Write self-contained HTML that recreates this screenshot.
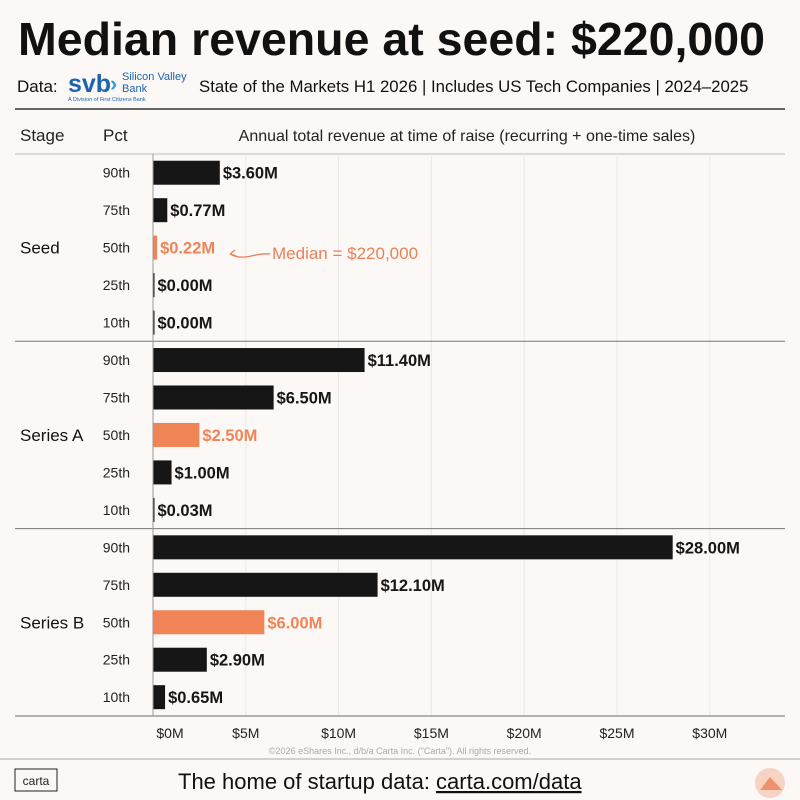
<!DOCTYPE html>
<html><head><meta charset="utf-8">
<style>
html,body{margin:0;padding:0;background:#fbf8f6;}
svg{display:block;font-family:"Liberation Sans",sans-serif;}
</style></head>
<body>
<svg id="chart" width="800" height="800" viewBox="0 0 800 800">
<rect width="800" height="800" fill="#fbf8f6"/>
<text x="18" y="55" font-size="46.5" font-weight="bold" fill="#111">Median revenue at seed: $220,000</text>
<text x="17" y="92" font-size="17" fill="#111">Data:</text>
<g>
<text x="68" y="92" font-size="25" font-weight="bold" fill="#1e63b0">svb</text>
<text x="110" y="91" font-size="22" font-weight="bold" fill="#2aa3e0">›</text>
<text x="122" y="80" font-size="11" fill="#1e63b0">Silicon Valley</text>
<text x="122" y="92" font-size="11" fill="#1e63b0">Bank</text>
<text x="68" y="101" font-size="5.5" fill="#1e63b0">A Division of First Citizens Bank</text>
</g>
<text x="199" y="92" font-size="16.8" fill="#111">State of the Markets H1 2026 | Includes US Tech Companies | 2024–2025</text>
<line x1="15" y1="109" x2="785" y2="109" stroke="#333" stroke-width="1.5"/>
<text x="20" y="141" font-size="17" fill="#222">Stage</text>
<text x="103" y="141" font-size="17" fill="#222">Pct</text>
<text x="467" y="141" font-size="16" fill="#222" text-anchor="middle">Annual total revenue at time of raise (recurring + one-time sales)</text>
<line x1="15" y1="154" x2="785" y2="154" stroke="#bbb" stroke-width="1"/>
<g id="grid"></g>
<g id="bars"></g>
<g id="annot">
<path d="M270,254 C255,252 245,262 230,254" fill="none" stroke="#e8825a" stroke-width="1.3"/>
<path d="M230,254 l5,-4 M230,254 l6,2" stroke="#e8825a" stroke-width="1.3" fill="none"/>
<text x="272" y="259" font-size="17" fill="#e8825a">Median = $220,000</text>
</g>
<text x="400" y="754" font-size="9" fill="#aaa" text-anchor="middle">©2026 eShares Inc., d/b/a Carta Inc. ("Carta"). All rights reserved.</text>
<line x1="0" y1="759" x2="800" y2="759" stroke="#aaa" stroke-width="1"/>
<rect x="15" y="769" width="42" height="22" fill="none" stroke="#222" stroke-width="1"/>
<text x="36" y="785" font-size="12" fill="#222" text-anchor="middle">carta</text>
<text x="178" y="789" font-size="22" fill="#111">The home of startup data: <tspan text-decoration="underline">carta.com/data</tspan></text>
<circle cx="770" cy="783" r="15" fill="#f7d3c3"/>
<path d="M770,777 L782,790 L760,790 Z" fill="#e8825a" opacity="0.8"/>
</svg>
<script>
const stages = ["Seed","Series A","Series B"];
const pcts = ["90th","75th","50th","25th","10th"];
const seedValues = [3.60,0.77,0.22,0.00,0.00];
const seriesAValues = [11.40,6.50,2.50,1.00,0.03];
const seriesBValues = [28.00,12.10,6.00,2.90,0.65];
const ticks = [0,5,10,15,20,25,30];
const tickLabels = ["$0M","$5M","$10M","$15M","$20M","$25M","$30M"];

const svg = document.getElementById('chart');
const NS = "http://www.w3.org/2000/svg";
const x0 = 153, pxPerM = 18.56;
function xs(v){ return x0 + v*pxPerM; }
const groupTop = 154, groupH = 187.3, rowH = 37.46;
function rowY(g,i){ return groupTop + g*groupH + rowH*(i+0.5); }
function mk(tag, attrs, parent){ const e=document.createElementNS(NS,tag); for(const k in attrs) e.setAttribute(k,attrs[k]); parent.appendChild(e); return e; }
const grid = document.getElementById('grid');
const barsG = document.getElementById('bars');

ticks.forEach((t,i)=>{
  const gl = mk('line',{x1:xs(t),x2:xs(t),y1:154,y2:716,stroke:'#ece7e3','stroke-width':1},grid);
  
  
  const tx = mk('text',{x:Math.max(xs(t),170),y:738,'font-size':14,fill:'#222','text-anchor':'middle'},svg);
  tx.textContent = tickLabels[i];
  
  
});

const all = [seedValues, seriesAValues, seriesBValues];
all.forEach((vals,g)=>{
  const st = mk('text',{x:20,y:groupTop+g*groupH+groupH/2+6,'font-size':17,fill:'#111'},svg);
  st.textContent = stages[g];
  
  
  if(g>0){
    const sep = mk('line',{x1:15,x2:785,y1:groupTop+g*groupH,y2:groupTop+g*groupH,stroke:'#777','stroke-width':1},svg);
    
    
  }
  vals.forEach((v,i)=>{
    const y = rowY(g,i);
    const color = i===2 ? '#f08457' : '#161616';
    const pl = mk('text',{x:130,y:y+5,'font-size':14,fill:'#222','text-anchor':'end'},svg);
    pl.textContent = pcts[i];
    
    
    const w = Math.max(xs(v)-x0, 1.5);
    const b = mk('rect',{x:x0,y:y-12,width:w,height:24,fill:color},barsG);
    
    
    const vl = mk('text',{x:x0+w+3,y:y+6,'font-size':16.5,'font-weight':'bold',fill:color},svg);
    vl.textContent = '$'+v.toFixed(2)+'M';
    
    
  });
});
const ax = mk('line',{x1:15,x2:785,y1:716,y2:716,stroke:'#888','stroke-width':1.3},svg);


const zl = mk('line',{x1:x0,x2:x0,y1:154,y2:716,stroke:'#999','stroke-width':1},svg);


</script>
</body></html>
